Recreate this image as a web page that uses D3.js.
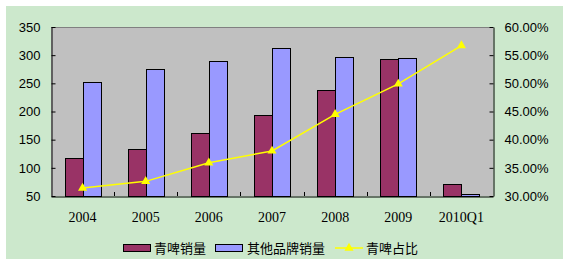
<!DOCTYPE html>
<html>
<head>
<meta charset="utf-8">
<script src="https://cdn.jsdelivr.net/npm/d3@7"></script>
<style>
  body { margin: 0; background: #fff; }
  svg { display: block; }
</style>
</head>
<body>
<svg id="chart" width="570" height="266"></svg>
<script>
/* DATA */
const years = ["2004", "2005", "2006", "2007", "2008", "2009", "2010Q1"];
const tsingtaoSales = [117, 133, 162, 193, 239, 293, 71];
const otherSales = [252, 275, 289, 312, 296, 295, 54];
const tsingtaoShare = [0.314, 0.326, 0.359, 0.380, 0.445, 0.499, 0.567];
const leftTicks = [50, 100, 150, 200, 250, 300, 350];
const rightTicks = [0.30, 0.35, 0.40, 0.45, 0.50, 0.55, 0.60];
const seriesNames = ["青啤销量", "其他品牌销量", "青啤占比"];

const svg = d3.select("#chart");

// outer green panel
svg.append("rect")
  .attr("x", 6).attr("y", 6)
  .attr("width", 557).attr("height", 253)
  .attr("fill", "#CCE8CC");

const plot = { left: 51, right: 493, top: 27, bottom: 196 };

const x = d3.scaleBand()
  .domain(years)
  .range([plot.left, plot.right]);

const yLeft = d3.scaleLinear().domain([50, 350]).range([plot.bottom, plot.top]);
const yRight = d3.scaleLinear().domain([0.30, 0.60]).range([plot.bottom, plot.top]);

// plot background
svg.append("rect")
  .attr("x", plot.left).attr("y", plot.top)
  .attr("width", plot.right - plot.left).attr("height", plot.bottom - plot.top)
  .attr("fill", "#C0C0C0");

// top border grey
svg.append("line")
  .attr("x1", plot.left).attr("x2", plot.right)
  .attr("y1", plot.top + 0.5).attr("y2", plot.top + 0.5)
  .attr("stroke", "#808080");

// bars
const barW = 18;
const bars = svg.append("g");
years.forEach((yr, i) => {
  const cx = x(yr) + x.bandwidth() / 2;
  bars.append("rect")
    .attr("x", Math.round(cx - barW) + 0.5)
    .attr("y", Math.round(yLeft(tsingtaoSales[i])) + 0.5)
    .attr("width", barW)
    .attr("height", Math.round(yLeft(50)) - Math.round(yLeft(tsingtaoSales[i])))
    .attr("fill", "#993366").attr("stroke", "#000");
  bars.append("rect")
    .attr("x", Math.round(cx) + 0.5)
    .attr("y", Math.round(yLeft(otherSales[i])) + 0.5)
    .attr("width", barW)
    .attr("height", Math.round(yLeft(50)) - Math.round(yLeft(otherSales[i])))
    .attr("fill", "#9999FF").attr("stroke", "#000");
});

// axes
const axisLeft = d3.axisLeft(yLeft).tickValues(leftTicks).tickSizeInner(-4).tickSizeOuter(0).tickPadding(11);
const axisRight = d3.axisRight(yRight).tickValues(rightTicks).tickFormat(d3.format(".2%")).tickSizeInner(-4).tickSizeOuter(0).tickPadding(11);
const axisBottom = d3.axisBottom(x).tickSizeInner(0).tickSizeOuter(0).tickPadding(16);

const gl = svg.append("g").attr("transform", `translate(${plot.left + 0.5},0)`).call(axisLeft);
const gr = svg.append("g").attr("transform", `translate(${plot.right + 0.5},0)`).call(axisRight);
const gb = svg.append("g").attr("transform", `translate(0,${plot.bottom + 0.5})`).call(axisBottom);

[gl, gr, gb].forEach(g => {
  g.select(".domain").attr("stroke", "#000");
  g.selectAll(".tick line").attr("stroke", "#000");
  g.selectAll("text").attr("fill", "#000");
});
gl.selectAll("text").attr("font-family", "'Liberation Sans', Arial, sans-serif").attr("font-size", 13);
gr.selectAll("text").attr("font-family", "'Liberation Sans', Arial, sans-serif").attr("font-size", 13);
gb.selectAll("text").attr("font-family", "'Liberation Serif', 'DejaVu Serif', serif").attr("font-size", 14);

// inside tick marks at category boundaries on the bottom axis
svg.append("g").selectAll("line")
  .data(years.slice(1))
  .join("line")
  .attr("x1", d => Math.round(x(d)) + 0.5)
  .attr("x2", d => Math.round(x(d)) + 0.5)
  .attr("y1", plot.bottom)
  .attr("y2", plot.bottom - 4)
  .attr("stroke", "#000");

// share line
const line = d3.line()
  .x((d, i) => x(years[i]) + x.bandwidth() / 2)
  .y(d => yRight(d));

svg.append("path")
  .datum(tsingtaoShare)
  .attr("d", line)
  .attr("fill", "none")
  .attr("stroke", "#FFFF00")
  .attr("stroke-width", 1.5);

const tri = d3.symbol().type(d3.symbolTriangle).size(36);
svg.append("g").selectAll("path")
  .data(tsingtaoShare)
  .join("path")
  .attr("d", tri)
  .attr("transform", (d, i) => `translate(${x(years[i]) + x.bandwidth() / 2},${yRight(d)})`)
  .attr("fill", "#FFFF00");

// legend
const legend = svg.append("g").attr("font-family", "'Noto Sans CJK SC', sans-serif").attr("font-size", 13);
const ly = 248;
legend.append("rect").attr("x", 123.5).attr("y", ly - 3.5).attr("width", 27).attr("height", 7)
  .attr("fill", "#993366").attr("stroke", "#000");
legend.append("text").attr("x", 154).attr("y", ly).attr("dy", "0.36em").text(seriesNames[0]);
legend.append("rect").attr("x", 215.5).attr("y", ly - 3.5).attr("width", 27).attr("height", 7)
  .attr("fill", "#9999FF").attr("stroke", "#000");
legend.append("text").attr("x", 247).attr("y", ly).attr("dy", "0.36em").text(seriesNames[1]);
legend.append("line").attr("x1", 335).attr("x2", 363).attr("y1", ly).attr("y2", ly)
  .attr("stroke", "#FFFF00").attr("stroke-width", 1.5);
legend.append("path").attr("d", tri).attr("transform", `translate(349,${ly})`).attr("fill", "#FFFF00");
legend.append("text").attr("x", 366).attr("y", ly).attr("dy", "0.36em").text(seriesNames[2]);
</script>
</body>
</html>
